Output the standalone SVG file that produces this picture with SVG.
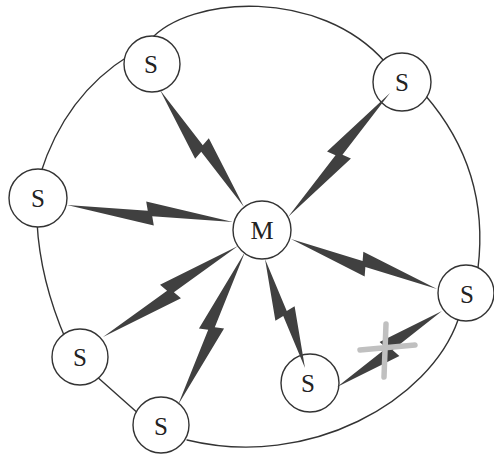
<svg xmlns="http://www.w3.org/2000/svg" xmlns:xlink="http://www.w3.org/1999/xlink" width="494" height="462" viewBox="0 0 494 462">
<style>
.ring{fill:none;stroke:#333;stroke-width:1.4;stroke-linecap:round}
.node{fill:#fff;stroke:#333;stroke-width:1.4}
.lbl{font-family:"Liberation Serif","Times New Roman",serif;font-size:25px;fill:#222;text-anchor:middle}
.bolt{fill:#404040}
.cross{stroke:#c0c0c0;stroke-width:5.5;stroke-linecap:round;fill:none}
</style>
<defs>
<path id="bolt" d="M0,0 L0.53,11.5 L0.515,2.5 L1,0 L0.47,-11.5 L0.485,-2.5 Z"/>
</defs>
<rect width="494" height="462" fill="#fff"/>
<g id="ring">
<path class="ring" d="M150,40 C190,-5 320,-12 385,62"/>
<path class="ring" d="M425,95 Q490,170 478,268"/>
<path class="ring" d="M458,320 C430,400 310,470 187,440"/>
<path class="ring" d="M95,375 L140,415"/>
<path class="ring" d="M66,340 Q40,280 37,222"/>
<path class="ring" d="M40,175 Q65,95 130,55"/>
</g>
<g id="node-M"><circle class="node" cx="262" cy="230" r="29"/><text class="lbl" x="262" y="239" style="font-size:26px">M</text></g>
<g id="node-S1"><circle class="node" cx="152" cy="64" r="28"/><text class="lbl" x="151" y="73">S</text></g>
<g id="node-S2"><circle class="node" cx="402" cy="82" r="29"/><text class="lbl" x="402" y="91">S</text></g>
<g id="node-S3"><circle class="node" cx="38" cy="198" r="29"/><text class="lbl" x="38" y="207">S</text></g>
<g id="node-S4"><circle class="node" cx="466" cy="293" r="28"/><text class="lbl" x="467" y="303">S</text></g>
<g id="node-S5"><circle class="node" cx="310" cy="383" r="29"/><text class="lbl" x="308" y="392">S</text></g>
<g id="node-S6"><circle class="node" cx="80" cy="357" r="28"/><text class="lbl" x="80" y="366">S</text></g>
<g id="node-S7"><circle class="node" cx="161" cy="425" r="28"/><text class="lbl" x="161" y="435">S</text></g>
<g id="connectors">
<use xlink:href="#bolt" class="bolt" transform="translate(160,90) rotate(54.33) scale(144.03,1)"/>
<use xlink:href="#bolt" class="bolt" transform="translate(390,93) rotate(129.44) scale(160.56,1)"/>
<use xlink:href="#bolt" class="bolt" transform="translate(67,205) rotate(5.85) scale(166.87,1)"/>
<use xlink:href="#bolt" class="bolt" transform="translate(437,289) rotate(-161.1) scale(154.33,1)"/>
<use xlink:href="#bolt" class="bolt" transform="translate(305,368) rotate(-110.15) scale(116.1,1)"/>
<use xlink:href="#bolt" class="bolt" transform="translate(103,337) rotate(-33.99) scale(162.8,1)"/>
<use xlink:href="#bolt" class="bolt" transform="translate(178,405) rotate(-66.35) scale(167,1)"/>
<use xlink:href="#bolt" class="bolt" transform="translate(337,387) rotate(-35.9) scale(129.6,1)"/>
<path class="cross" d="M386,324 L384,377 M360,350 L415,345"/>
</g>
</svg>
